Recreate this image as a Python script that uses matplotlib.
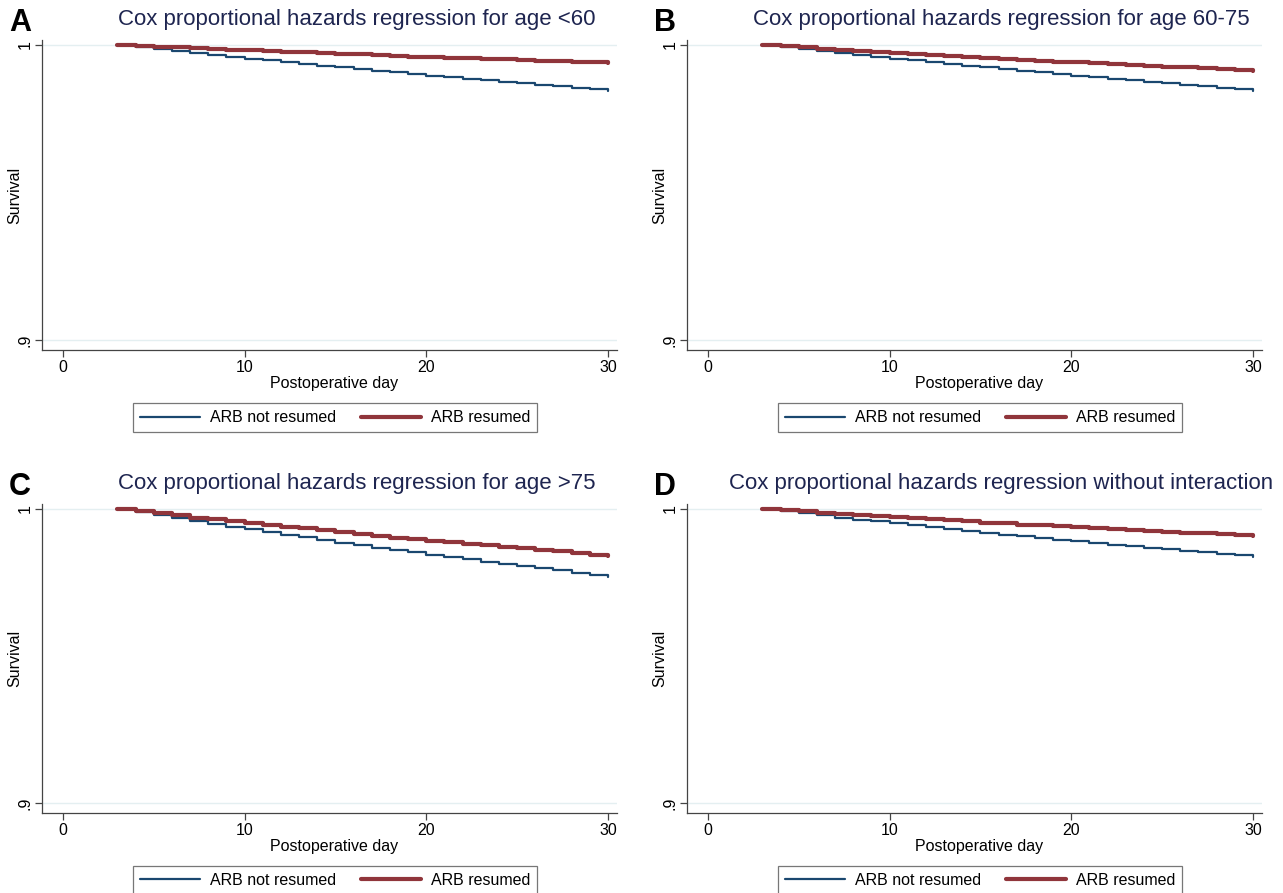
import matplotlib
matplotlib.use("Agg")
import matplotlib.pyplot as plt

plt.rcParams['font.family'] = ['Liberation Sans', 'DejaVu Sans']

# datos ------
days = list(range(3, 31))

a_not = [1.0000, 0.9993, 0.9986, 0.9979, 0.9972, 0.9966, 0.9960, 0.9954, 0.9948, 0.9942,
         0.9936, 0.9930, 0.9924, 0.9918, 0.9912, 0.9907, 0.9902, 0.9896, 0.9891, 0.9886,
         0.9881, 0.9876, 0.9871, 0.9866, 0.9861, 0.9855, 0.9850, 0.9844]
a_res = [1.0000, 0.9997, 0.9994, 0.9992, 0.9989, 0.9987, 0.9984, 0.9982, 0.9979, 0.9977,
         0.9975, 0.9972, 0.9970, 0.9968, 0.9965, 0.9963, 0.9961, 0.9959, 0.9957, 0.9955,
         0.9953, 0.9951, 0.9949, 0.9947, 0.9945, 0.9943, 0.9941, 0.9939]

b_not = [1.0000, 0.9993, 0.9986, 0.9979, 0.9972, 0.9966, 0.9960, 0.9954, 0.9948, 0.9942,
         0.9936, 0.9930, 0.9924, 0.9918, 0.9912, 0.9907, 0.9902, 0.9896, 0.9891, 0.9886,
         0.9881, 0.9876, 0.9871, 0.9866, 0.9861, 0.9855, 0.9850, 0.9844]
b_res = [1.0000, 0.9996, 0.9992, 0.9988, 0.9984, 0.9981, 0.9977, 0.9974, 0.9970, 0.9967,
         0.9964, 0.9960, 0.9957, 0.9953, 0.9950, 0.9947, 0.9944, 0.9941, 0.9938, 0.9935,
         0.9932, 0.9929, 0.9926, 0.9924, 0.9921, 0.9918, 0.9915, 0.9912]

c_not = [1.0000, 0.9989, 0.9979, 0.9968, 0.9958, 0.9949, 0.9940, 0.9931, 0.9922, 0.9913,
         0.9904, 0.9895, 0.9886, 0.9877, 0.9868, 0.9860, 0.9853, 0.9844, 0.9836, 0.9829,
         0.9821, 0.9814, 0.9806, 0.9799, 0.9791, 0.9784, 0.9776, 0.9769]
c_res = [1.0000, 0.9992, 0.9986, 0.9978, 0.9971, 0.9965, 0.9959, 0.9952, 0.9946, 0.9940,
         0.9934, 0.9928, 0.9921, 0.9915, 0.9909, 0.9903, 0.9899, 0.9892, 0.9887, 0.9882,
         0.9876, 0.9872, 0.9866, 0.9861, 0.9856, 0.9851, 0.9845, 0.9840]

d_not = [1.0000, 0.9993, 0.9985, 0.9978, 0.9970, 0.9964, 0.9958, 0.9951, 0.9945, 0.9939,
         0.9932, 0.9926, 0.9919, 0.9913, 0.9907, 0.9901, 0.9896, 0.9890, 0.9884, 0.9879,
         0.9874, 0.9869, 0.9863, 0.9858, 0.9853, 0.9847, 0.9842, 0.9837]
d_res = [1.0000, 0.9996, 0.9992, 0.9988, 0.9983, 0.9980, 0.9976, 0.9972, 0.9969, 0.9966,
         0.9962, 0.9958, 0.9954, 0.9951, 0.9947, 0.9944, 0.9941, 0.9938, 0.9934, 0.9932,
         0.9929, 0.9926, 0.9923, 0.9920, 0.9917, 0.9914, 0.9911, 0.9908]

letters = ['A', 'B', 'C', 'D']
titles = ['Cox proportional hazards regression for age <60',
          'Cox proportional hazards regression for age 60-75',
          'Cox proportional hazards regression for age >75',
          'Cox proportional hazards regression without interaction']
series = [(a_not, a_res), (b_not, b_res), (c_not, c_res), (d_not, d_res)]
labels = ['ARB not resumed', 'ARB resumed']

NAVY = '#1a476f'
MAROON = '#90353b'
TITLE_COL = '#1e2550'
FS = 11.5

W, H = 1283, 893
fig = plt.figure(figsize=(W / 100, H / 100), dpi=100)

# posiciones de los paneles en pixeles: (izq, der, arriba, abajo)
panels = [(42, 617, 40, 350), (687, 1262, 40, 350),
          (42, 617, 504, 813), (687, 1262, 504, 813)]

for i, (l, r, t, b) in enumerate(panels):
    ax = fig.add_axes([l / W, 1 - b / H, (r - l) / W, (b - t) / H])
    y_not, y_res = series[i]
    ax.plot(days, y_not, drawstyle='steps-post', color=NAVY, lw=1.6,
            label=labels[0], solid_capstyle='round', zorder=3)
    ax.plot(days, y_res, drawstyle='steps-post', color=MAROON, lw=3.0,
            label=labels[1], solid_capstyle='round', zorder=3)

    ax.set_xlim(-1.15, 30.5)
    ax.set_ylim(0.8966, 1.0017)
    ax.set_xticks([0, 10, 20, 30])
    ax.set_yticks([0.9, 1.0])
    ax.set_yticklabels(['.9', '1'], rotation=90, va='center')
    ax.grid(axis='y', color='#e4eff1', lw=1.0, zorder=0)
    for s in ['top', 'right']:
        ax.spines[s].set_visible(False)
    for s in ['left', 'bottom']:
        ax.spines[s].set_color('#444444')
        ax.spines[s].set_linewidth(0.9)
    ax.tick_params(axis='both', length=5, width=0.9, color='#444444',
                   labelsize=FS)
    ax.tick_params(axis='y', pad=2)
    ax.tick_params(axis='x', pad=2)
    ax.set_xlabel('Postoperative day', fontsize=FS, labelpad=0)
    ax.xaxis.set_label_coords(0.508, -0.085)
    ax.set_ylabel('Survival', fontsize=FS)
    ax.yaxis.set_label_coords(-0.034, 0.5)

    ax.text(0.547, 1.065, titles[i], transform=ax.transAxes, fontsize=16.0,
            color=TITLE_COL, ha='center', va='center')
    ax.text(-0.057, 1.055, letters[i], transform=ax.transAxes,
            fontsize=22, fontweight='bold', va='center', ha='left')

    leg = ax.legend(loc='upper center', bbox_to_anchor=(0.51, -0.145), ncol=2,
                    frameon=True, fancybox=False, fontsize=FS,
                    handlelength=3.75, columnspacing=1.6, borderpad=0.45,
                    handletextpad=0.6)
    leg.get_frame().set_edgecolor('#555555')
    leg.get_frame().set_linewidth(0.9)

fig.savefig('out.png', dpi=100)
